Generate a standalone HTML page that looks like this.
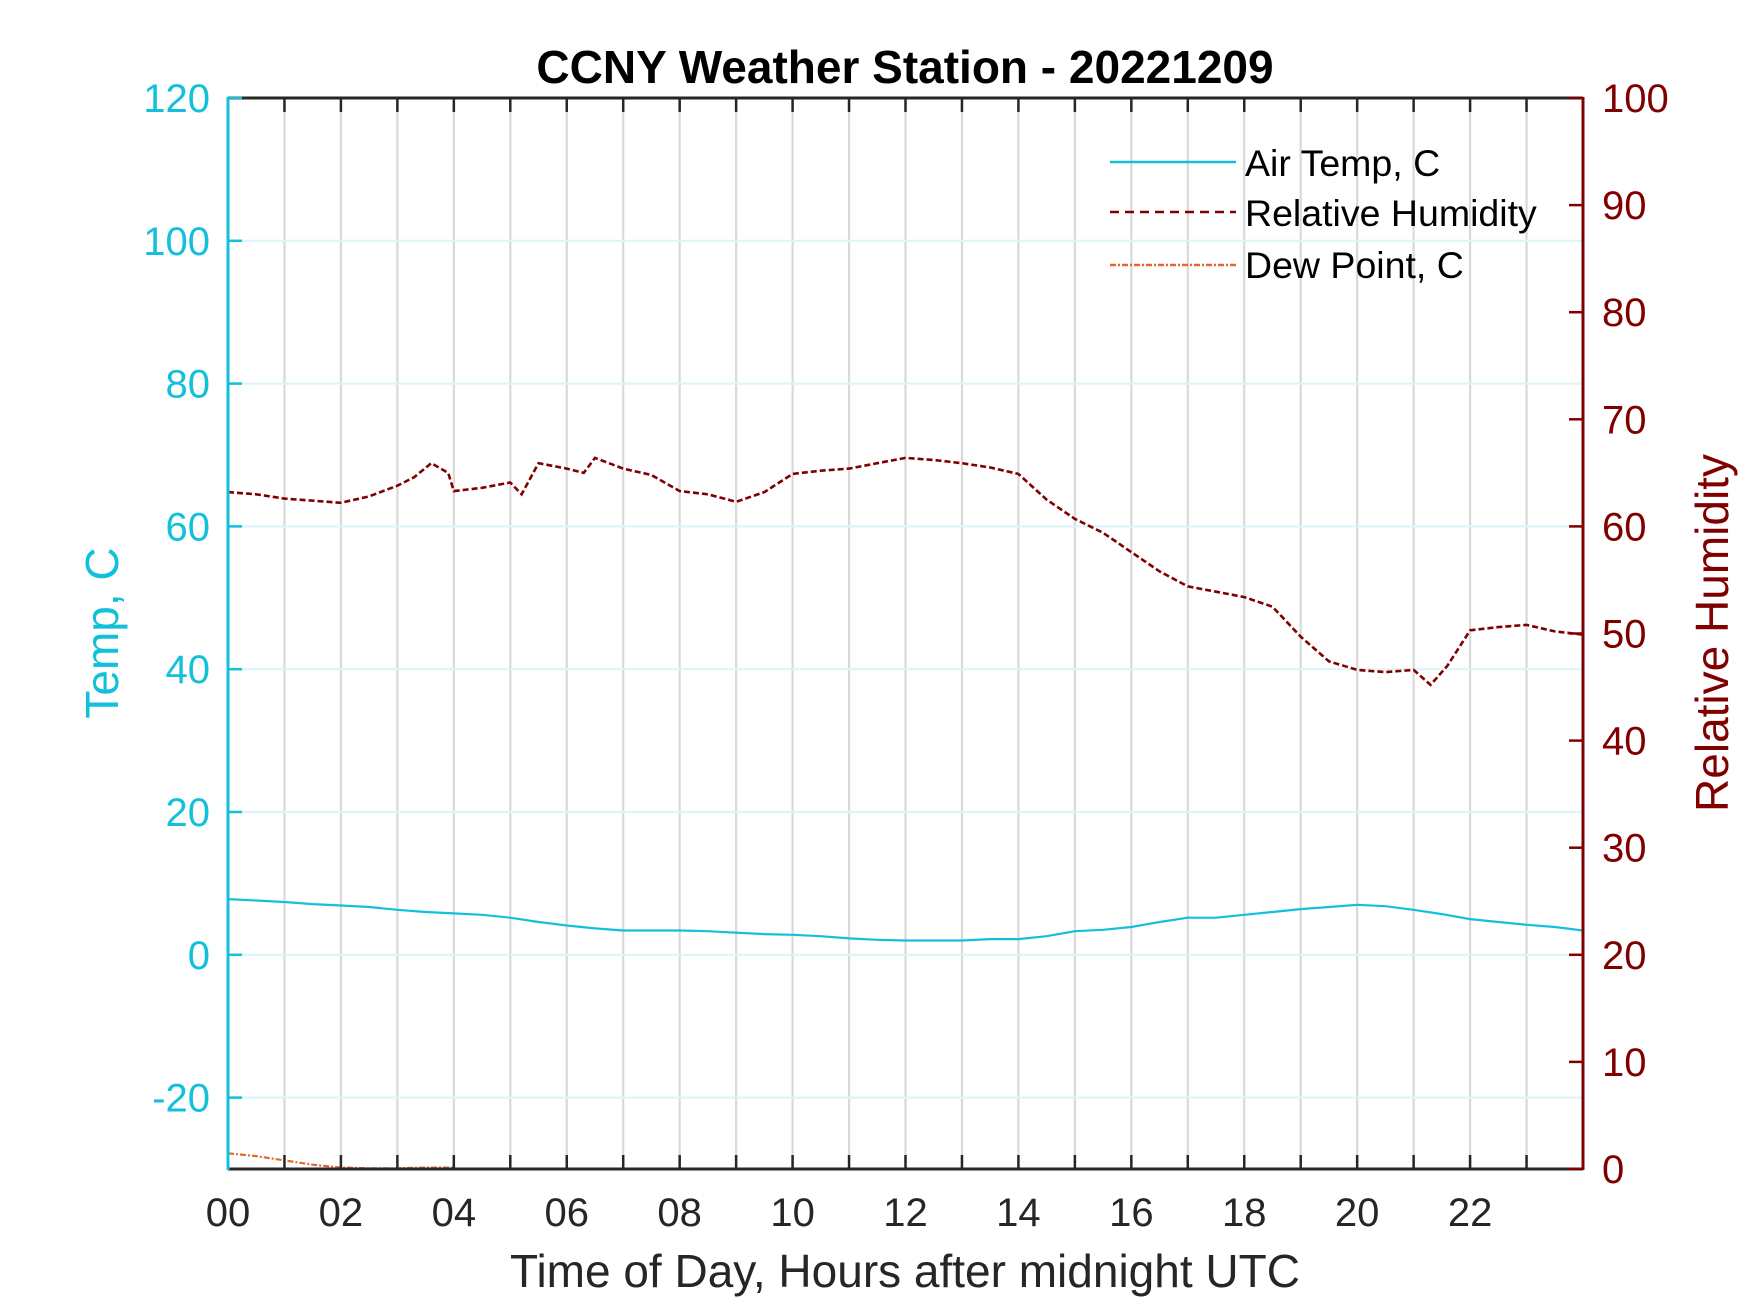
<!DOCTYPE html>
<html><head><meta charset="utf-8"><style>
html,body{margin:0;padding:0;background:#fff;}
svg{display:block;font-family:"Liberation Sans",Arial,sans-serif;}
</style></head><body>
<svg id="chart" width="1750" height="1313" viewBox="0 0 1750 1313" xmlns="http://www.w3.org/2000/svg">
<rect width="1750" height="1313" fill="#fff"/>
<g id="grid"></g>
<g id="series"></g>
<g id="axes"></g>
<text x="905" y="83" text-anchor="middle" font-size="46" font-weight="bold" fill="#000">CCNY Weather Station - 20221209</text>
<text x="905" y="1287" text-anchor="middle" font-size="46" fill="#262626">Time of Day, Hours after midnight UTC</text>
<text transform="translate(118,633) rotate(-90)" text-anchor="middle" font-size="46" fill="#12c1d9">Temp, C</text>
<text transform="translate(1728,633) rotate(-90)" text-anchor="middle" font-size="46" fill="#800000">Relative Humidity</text>
<g>
<line x1="1110" y1="162" x2="1236" y2="162" stroke="#12c1d9" stroke-width="2.5"/>
<text x="1245" y="176" font-size="37.5" fill="#000">Air Temp, C</text>
<line x1="1110" y1="212" x2="1236" y2="212" stroke="#800000" stroke-width="2.5" stroke-dasharray="9,6"/>
<text x="1245" y="226" font-size="37.5" fill="#000">Relative Humidity</text>
<line x1="1110" y1="265" x2="1236" y2="265" stroke="#e06a30" stroke-width="2.5" stroke-dasharray="6,2,2,2"/>
<text x="1245" y="278" font-size="37.5" fill="#000">Dew Point, C</text>
</g>
</svg>
<script>
const xTickLabels = ["00","02","04","06","08","10","12","14","16","18","20","22"];
const leftTicks = [-20,0,20,40,60,80,100,120];
const rightTicks = [0,10,20,30,40,50,60,70,80,90,100];
const tempHours = [0,0.5,1,1.5,2,2.5,3,3.5,4,4.5,5,5.5,6,6.5,7,7.5,8,8.5,9,9.5,10,10.5,11,11.5,12,12.5,13,13.5,14,14.5,15,15.5,16,16.5,17,17.5,18,18.5,19,19.5,20,20.5,21,21.5,22,22.5,23,23.5,24];
const tempValues = [7.8,7.6,7.4,7.1,6.9,6.7,6.3,6.0,5.8,5.6,5.2,4.6,4.1,3.7,3.4,3.4,3.4,3.3,3.1,2.9,2.8,2.6,2.3,2.1,2.0,2.0,2.0,2.2,2.2,2.6,3.3,3.5,3.9,4.6,5.2,5.2,5.6,6.0,6.4,6.7,7.0,6.8,6.3,5.7,5.0,4.6,4.2,3.9,3.4];
const rhHours = [0,0.5,1,1.5,2,2.5,3,3.3,3.6,3.9,4,4.5,5,5.2,5.5,6,6.3,6.5,7,7.5,8,8.5,9,9.5,10,10.5,11,11.5,12,12.5,13,13.5,14,14.5,15,15.5,16,16.5,17,17.5,18,18.5,19,19.5,20,20.5,21,21.3,21.6,22,22.5,23,23.5,24];
const rhValues = [63.2,63.0,62.6,62.4,62.2,62.8,63.8,64.6,65.9,65.0,63.3,63.6,64.1,63.0,65.9,65.4,65.0,66.4,65.4,64.8,63.3,63.0,62.3,63.2,64.9,65.2,65.4,65.9,66.4,66.2,65.9,65.5,64.9,62.5,60.7,59.4,57.6,55.8,54.4,53.9,53.4,52.5,49.7,47.4,46.6,46.4,46.6,45.2,47.0,50.3,50.6,50.8,50.2,49.9];
const dewHours = [0,0.5,1,1.5,2,2.5,3,3.5,4];
const dewValues = [-27.8,-28.2,-28.8,-29.4,-29.8,-29.9,-29.9,-29.8,-29.8];

const L=228,R=1583,T=98,B=1169;
const xs=h=>L+(R-L)*h/24;
const yl=v=>T+(B-T)*(120-v)/150;
const yr=v=>B-(B-T)*v/100;
const NS="http://www.w3.org/2000/svg";
function mk(tag,attrs,parent){const e=document.createElementNS(NS,tag);for(const k in attrs)e.setAttribute(k,attrs[k]);parent.appendChild(e);return e;}
const grid=document.getElementById('grid'),axes=document.getElementById('axes'),series=document.getElementById('series');

for(let h=1;h<24;h++){
  const g=mk('line',{x1:xs(h),x2:xs(h),y1:T,y2:B,stroke:'#d9d9d9','stroke-width':2.2},grid);
  
  
}
leftTicks.forEach(v=>{
  const g=mk('line',{x1:L,x2:R,y1:yl(v),y2:yl(v),stroke:'#dff4f8','stroke-width':2.2},grid);
  
  
});

function poly(hs,vs,yf,attrs,name){
  const pts=hs.map((h,i)=>xs(h).toFixed(1)+','+yf(vs[i]).toFixed(1)).join(' ');
  const p=mk('polyline',Object.assign({points:pts,fill:'none'},attrs),series);
  
  
}
poly(tempHours,tempValues,yl,{stroke:'#12c1d9','stroke-width':2.2},'air-temp-line');
poly(rhHours,rhValues,yr,{stroke:'#800000','stroke-width':2.6,'stroke-dasharray':'6,3'},'relative-humidity-line');
poly(dewHours,dewValues,yl,{stroke:'#e06a30','stroke-width':2.2,'stroke-dasharray':'6,2,2,2'},'dew-point-line');

let a=mk('line',{x1:L,x2:R,y1:T,y2:T,stroke:'#262626','stroke-width':3},axes);

a=mk('line',{x1:L,x2:R,y1:B,y2:B,stroke:'#262626','stroke-width':3},axes);

a=mk('line',{x1:L,x2:L,y1:T-1,y2:B+1,stroke:'#12c1d9','stroke-width':3},axes);

a=mk('line',{x1:R,x2:R,y1:T-1,y2:B+1,stroke:'#800000','stroke-width':3},axes);


for(let h=1;h<24;h++){
  [[T,T+14],[B,B-14]].forEach(([y1,y2])=>{
    const t=mk('line',{x1:xs(h),x2:xs(h),y1:y1,y2:y2,stroke:'#262626','stroke-width':2.5},axes);
    
    
  });
}
xTickLabels.forEach((lab,i)=>{
  const t=mk('text',{x:xs(i*2),y:1226,'text-anchor':'middle','font-size':40,fill:'#262626'},axes);
  t.textContent=lab;
  
  
});
leftTicks.forEach(v=>{
  const t=mk('line',{x1:L,x2:L+14,y1:yl(v),y2:yl(v),stroke:'#12c1d9','stroke-width':2.5},axes);
  
  
  const l=mk('text',{x:210,y:yl(v)+14,'text-anchor':'end','font-size':40,fill:'#12c1d9'},axes);
  l.textContent=v;
  
  
});
rightTicks.forEach(v=>{
  const t=mk('line',{x1:R,x2:R-14,y1:yr(v),y2:yr(v),stroke:'#800000','stroke-width':2.5},axes);
  
  
  const l=mk('text',{x:1602,y:yr(v)+14,'text-anchor':'start','font-size':40,fill:'#800000'},axes);
  l.textContent=v;
  
  
});
</script>
</body></html>
